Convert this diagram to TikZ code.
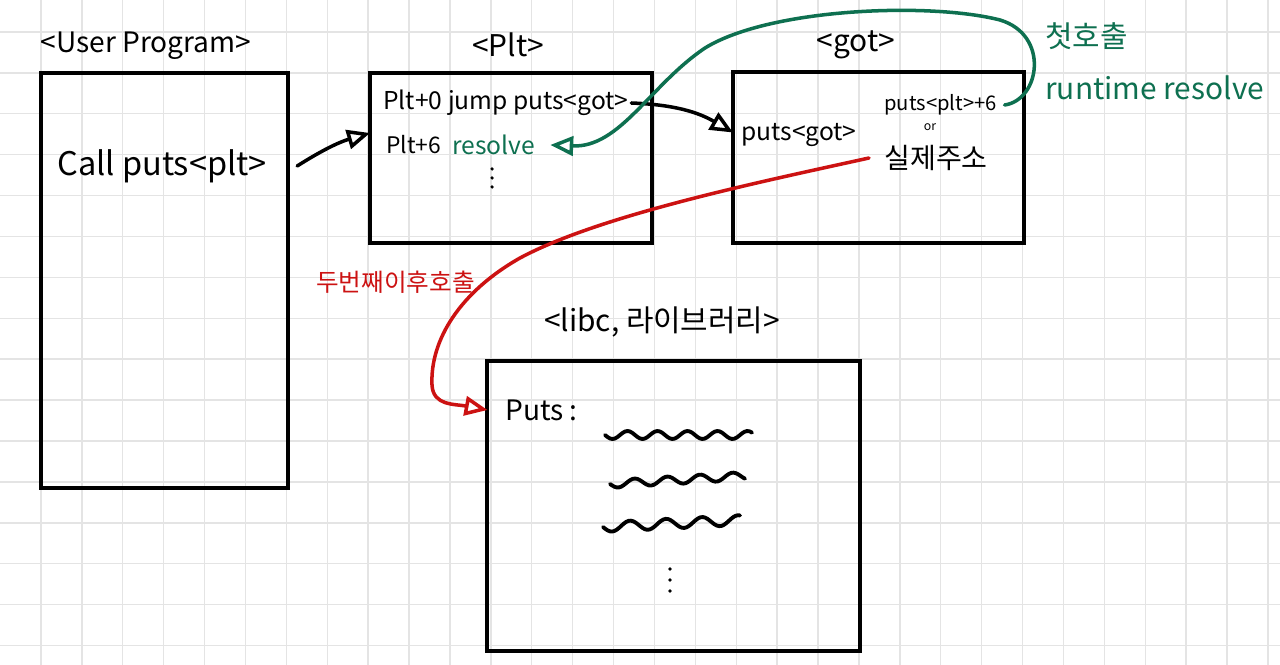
\documentclass[tikz,border=0pt]{standalone}
\usepackage{fontspec}
\setmainfont{Noto Sans CJK KR}
\usetikzlibrary{arrows.meta}

\begin{document}
\begin{tikzpicture}[x=0.02cm, y=-0.02cm]
      % 색상
      \definecolor{gridcolor}{RGB}{228,228,228}
      \definecolor{firstcall}{RGB}{14,112,80}     % 첫 호출 (초록)
      \definecolor{latercall}{RGB}{204,18,18}     % 두번째 이후 호출 (빨강)

      % 스타일
      \tikzstyle{memory} = [rectangle, draw=black, line width=2.3pt, inner sep=0pt, outer sep=0pt]
      \tikzstyle{heading} = [font=\fontsize{17}{20}\selectfont]
      \tikzstyle{entry} = [font=\fontsize{13}{15}\selectfont, inner sep=0pt, anchor=west]
      \tikzstyle{jump} = [-{Triangle[open, length=13pt, width=11pt]}, line width=2pt, line join=round, line cap=round]
      \tikzstyle{wave} = [line width=2.2pt, line cap=round]

      % 배경 + 모눈
      \useasboundingbox (0,0) rectangle (1280,665);
      \fill[white] (0,0) rectangle (1280,665);
      \foreach \i in {1,...,31}
        \draw[gridcolor, line width=0.8pt] (40.9*\i,0) -- (40.9*\i,665);
      \foreach \j in {0,...,15}
        \draw[gridcolor, line width=0.8pt] (0,32+40.9*\j) -- (1280,32+40.9*\j);

      % 메모리 영역
      \node[memory, minimum width=4.94cm, minimum height=8.3cm] (user) at (164.5,280.5) {};
      \node[memory, minimum width=5.64cm, minimum height=3.4cm] (plt) at (511,158) {};
      \node[memory, minimum width=5.82cm, minimum height=3.42cm] (got) at (878.5,157.5) {};
      \node[memory, minimum width=7.46cm, minimum height=5.8cm] (libc) at (673.5,506) {};

      % 제목
      \node[heading, font=\fontsize{16}{19}\selectfont] (usertitle) at (146,46) {<User Program>};
      \node[heading] (plttitle) at (508,45) {<Plt>};
      \node[heading] (gottitle) at (856,45) {<got>};
      \node[heading] (libctitle) at (662,322) {<libc, 라이브러리>};

      % User Program
      \node[entry, font=\fontsize{18.5}{22}\selectfont] (call) at (57,166) {Call puts<plt>};

      % Plt
      \node[entry, font=\fontsize{14}{16}\selectfont] (plt0) at (383,103) {Plt+0 jump puts<got>};
      \node[entry] (plt6) at (386,145) {Plt+6};
      \node[entry, text=firstcall, font=\fontsize{14}{16}\selectfont] (resolve) at (452,145) {resolve};
      \coordinate (pltdots) at (492,178);
      \foreach \d in {-9,0,9}
        \fill ([yshift=\d*0.02cm]pltdots) circle (1pt);

      % got
      \node[entry, font=\fontsize{14}{16}\selectfont] (gotputs) at (741,135) {puts<got>};
      \node[entry, font=\fontsize{11.5}{13}\selectfont] (gotplt) at (884,105) {puts<plt>+6};
      \node[font=\fontsize{7}{8}\selectfont, inner sep=0pt] (gotor) at (930,127) {or};
      \node[entry, font=\fontsize{16}{18}\selectfont] (gotaddr) at (884,158) {실제주소};

      % 호출 설명
      \node[entry, text=firstcall, font=\fontsize{17}{19}\selectfont] (firstnote) at (1045,36) {첫호출};
      \node[entry, text=firstcall, font=\fontsize{17}{20}\selectfont] (runtime) at (1045,88) {runtime resolve};
      \node[entry, text=latercall, font=\fontsize{14}{16}\selectfont] (laternote) at (316,282) {두번째이후호출};

      % libc
      \node[entry, font=\fontsize{16}{18}\selectfont] (libcputs) at (505,410) {Puts :};
      \draw[wave] plot[domain=605:752, samples=60, smooth] (\x, {435+4*sin((\x-605)*12)});
      \draw[wave] plot[domain=610:745, samples=60, smooth] (\x, {484-0.06*(\x-610)+4*sin((\x-610)*11)});
      \draw[wave] plot[domain=603:740, samples=60, smooth] (\x, {527-0.05*(\x-603)+5*sin((\x-603)*10)});
      \coordinate (libcdots) at (670,580);
      \foreach \d in {-11,0,11}
        \fill ([yshift=\d*0.02cm]libcdots) circle (1.1pt);

      % 연결선
      \draw[jump] ([xshift=0.6cm]call.east) to[bend left=8] ([yshift=0.5cm]plt.west);
      \draw[jump] ([xshift=0.05cm]plt0.east) to[bend left=14] ([yshift=0.5cm]got.west);
      \draw[jump, firstcall] ([xshift=0.15cm]gotplt.east) .. controls (1040,100) and (1050,35) .. (1000,20)
            .. controls (930,2) and (770,8) .. (705,48)
            .. controls (650,85) and (620,148) .. ([xshift=0.3cm]resolve.east);
      \draw[jump, latercall] ([xshift=-0.3cm]gotaddr.west) .. controls (760,182) and (600,215) .. (520,258)
            .. controls (460,292) and (430,340) .. (432,385)
            .. controls (433,406) and (455,404) .. ([xshift=-0.35cm]libcputs.west);
    \end{tikzpicture}
\end{document}
